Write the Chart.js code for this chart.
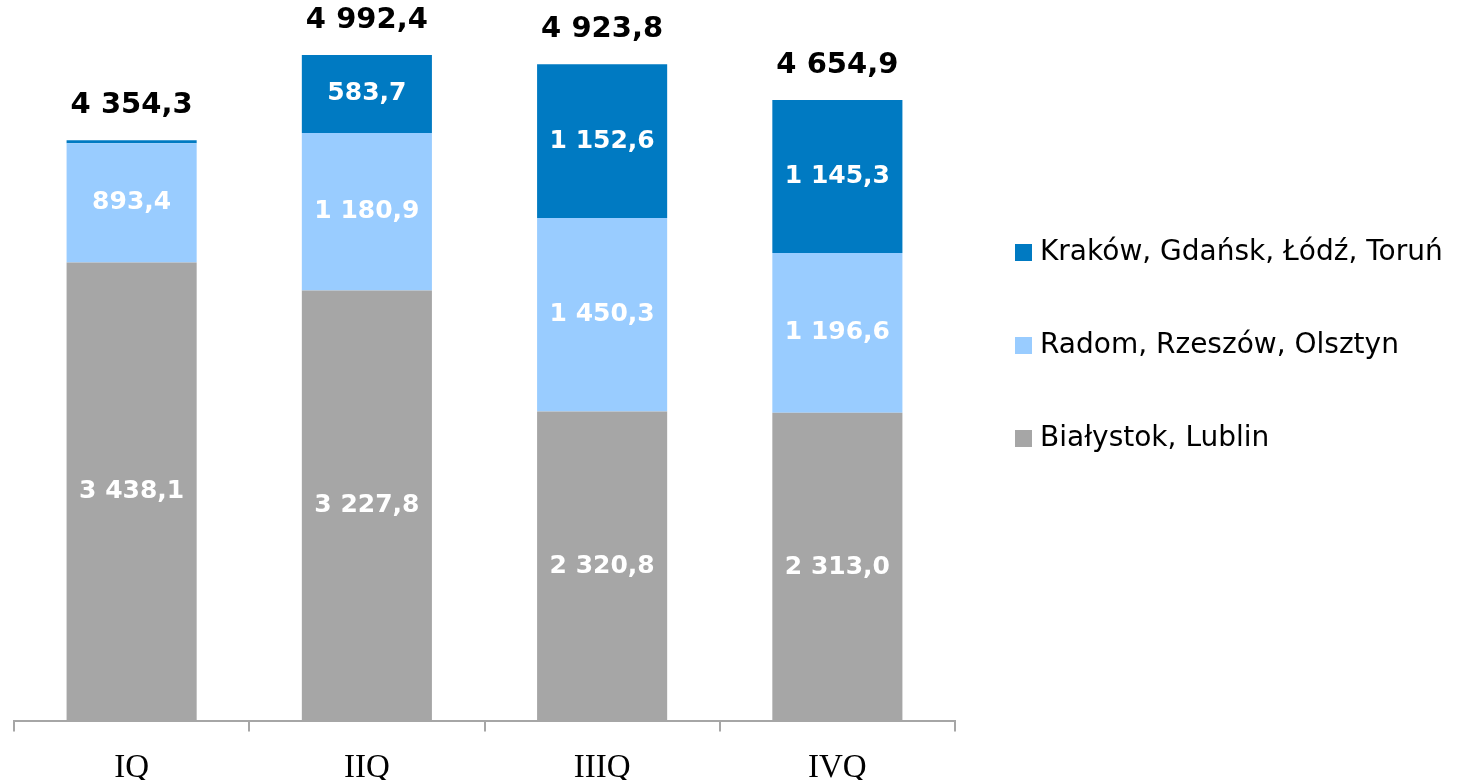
<!DOCTYPE html>
<html>
<head>
<meta charset="utf-8">
<script src="https://cdn.jsdelivr.net/npm/chart.js@4.4.1/dist/chart.umd.min.js"></script>
<style>
  html, body { margin: 0; padding: 0; background: #fff; }
</style>
</head>
<body>
<canvas id="grafico" width="1462" height="780"></canvas>
<script>
var kwartaly = ['IQ', 'IIQ', 'IIIQ', 'IVQ'];
var bialystokLublin = [3438.1, 3227.8, 2320.8, 2313.0];
var radomRzeszowOlsztyn = [893.4, 1180.9, 1450.3, 1196.6];
var krakowGdanskLodzTorun = [22.8, 583.7, 1152.6, 1145.3];
var sumy = [4354.3, 4992.4, 4923.8, 4654.9];

// liczby w formacie polskim: "3 438,1"
function fmt(v) {
  var parts = v.toFixed(1).split('.');
  var intPart = parts[0].replace(/\B(?=(\d{3})+(?!\d))/g, ' ');
  return intPart + ',' + parts[1];
}

var etykiety = {
  id: 'etykiety',
  afterDatasetsDraw: function(chart) {
    var ctx = chart.ctx;
    ctx.save();
    ctx.textAlign = 'center';
    ctx.textBaseline = 'middle';
    ctx.fillStyle = '#ffffff';
    ctx.font = 'bold 25px "DejaVu Sans"';
    chart.data.datasets.forEach(function(ds, i) {
      var meta = chart.getDatasetMeta(i);
      meta.data.forEach(function(bar, j) {
        if (Math.abs(bar.base - bar.y) < 30) return;
        ctx.fillText(fmt(ds.data[j]), bar.x, (bar.y + bar.base) / 2);
      });
    });
    // sumy nad slupkami
    ctx.fillStyle = '#000000';
    ctx.font = 'bold 29px "DejaVu Sans"';
    var y = chart.scales.y;
    var x = chart.scales.x;
    sumy.forEach(function(s, j) {
      ctx.fillText(fmt(s), x.getPixelForValue(j), y.getPixelForValue(s) - 35);
    });
    ctx.restore();
  }
};

var legenda = {
  id: 'legenda',
  afterDraw: function(chart) {
    var ctx = chart.ctx;
    var ds = chart.data.datasets.slice().reverse();
    ctx.save();
    ctx.font = '28px "DejaVu Sans"';
    ctx.textBaseline = 'middle';
    ctx.textAlign = 'left';
    ds.forEach(function(d, i) {
      var cy = 252 + i * 93;
      ctx.fillStyle = d.backgroundColor;
      ctx.fillRect(1015, cy - 8, 17, 17);
      ctx.fillStyle = '#000000';
      ctx.fillText(d.label, 1040, cy + 1);
    });
    ctx.restore();
  }
};

var ctx = document.getElementById('grafico').getContext('2d');
var chart = new Chart(ctx, {
  type: 'bar',
  data: {
    labels: kwartaly,
    datasets: [{
      label: 'Białystok, Lublin',
      data: bialystokLublin,
      backgroundColor: '#A6A6A6'
    }, {
      label: 'Radom, Rzeszów, Olsztyn',
      data: radomRzeszowOlsztyn,
      backgroundColor: '#99CCFF'
    }, {
      label: 'Kraków, Gdańsk, Łódź, Toruń',
      data: krakowGdanskLodzTorun,
      backgroundColor: '#007AC2'
    }]
  },
  options: {
    responsive: false,
    animation: false,
    layout: { padding: { left: 14, right: 507, top: 54, bottom: -25 } },
    datasets: {
      bar: { categoryPercentage: 1, barPercentage: 0.553, borderWidth: 0 }
    },
    plugins: {
      legend: { display: false },
      tooltip: { enabled: false }
    },
    scales: {
      x: {
        stacked: true,
        grid: { offset: true, drawOnChartArea: false, tickLength: 10, color: '#A6A6A6', lineWidth: 2 },
        border: { color: '#A6A6A6', width: 2 },
        ticks: { color: '#000', padding: 17, font: { family: '"Liberation Serif"', size: 33 } }
      },
      y: {
        stacked: true,
        display: false,
        min: 0,
        max: 5000
      }
    }
  },
  plugins: [etykiety, legenda]
});
</script>
</body>
</html>
